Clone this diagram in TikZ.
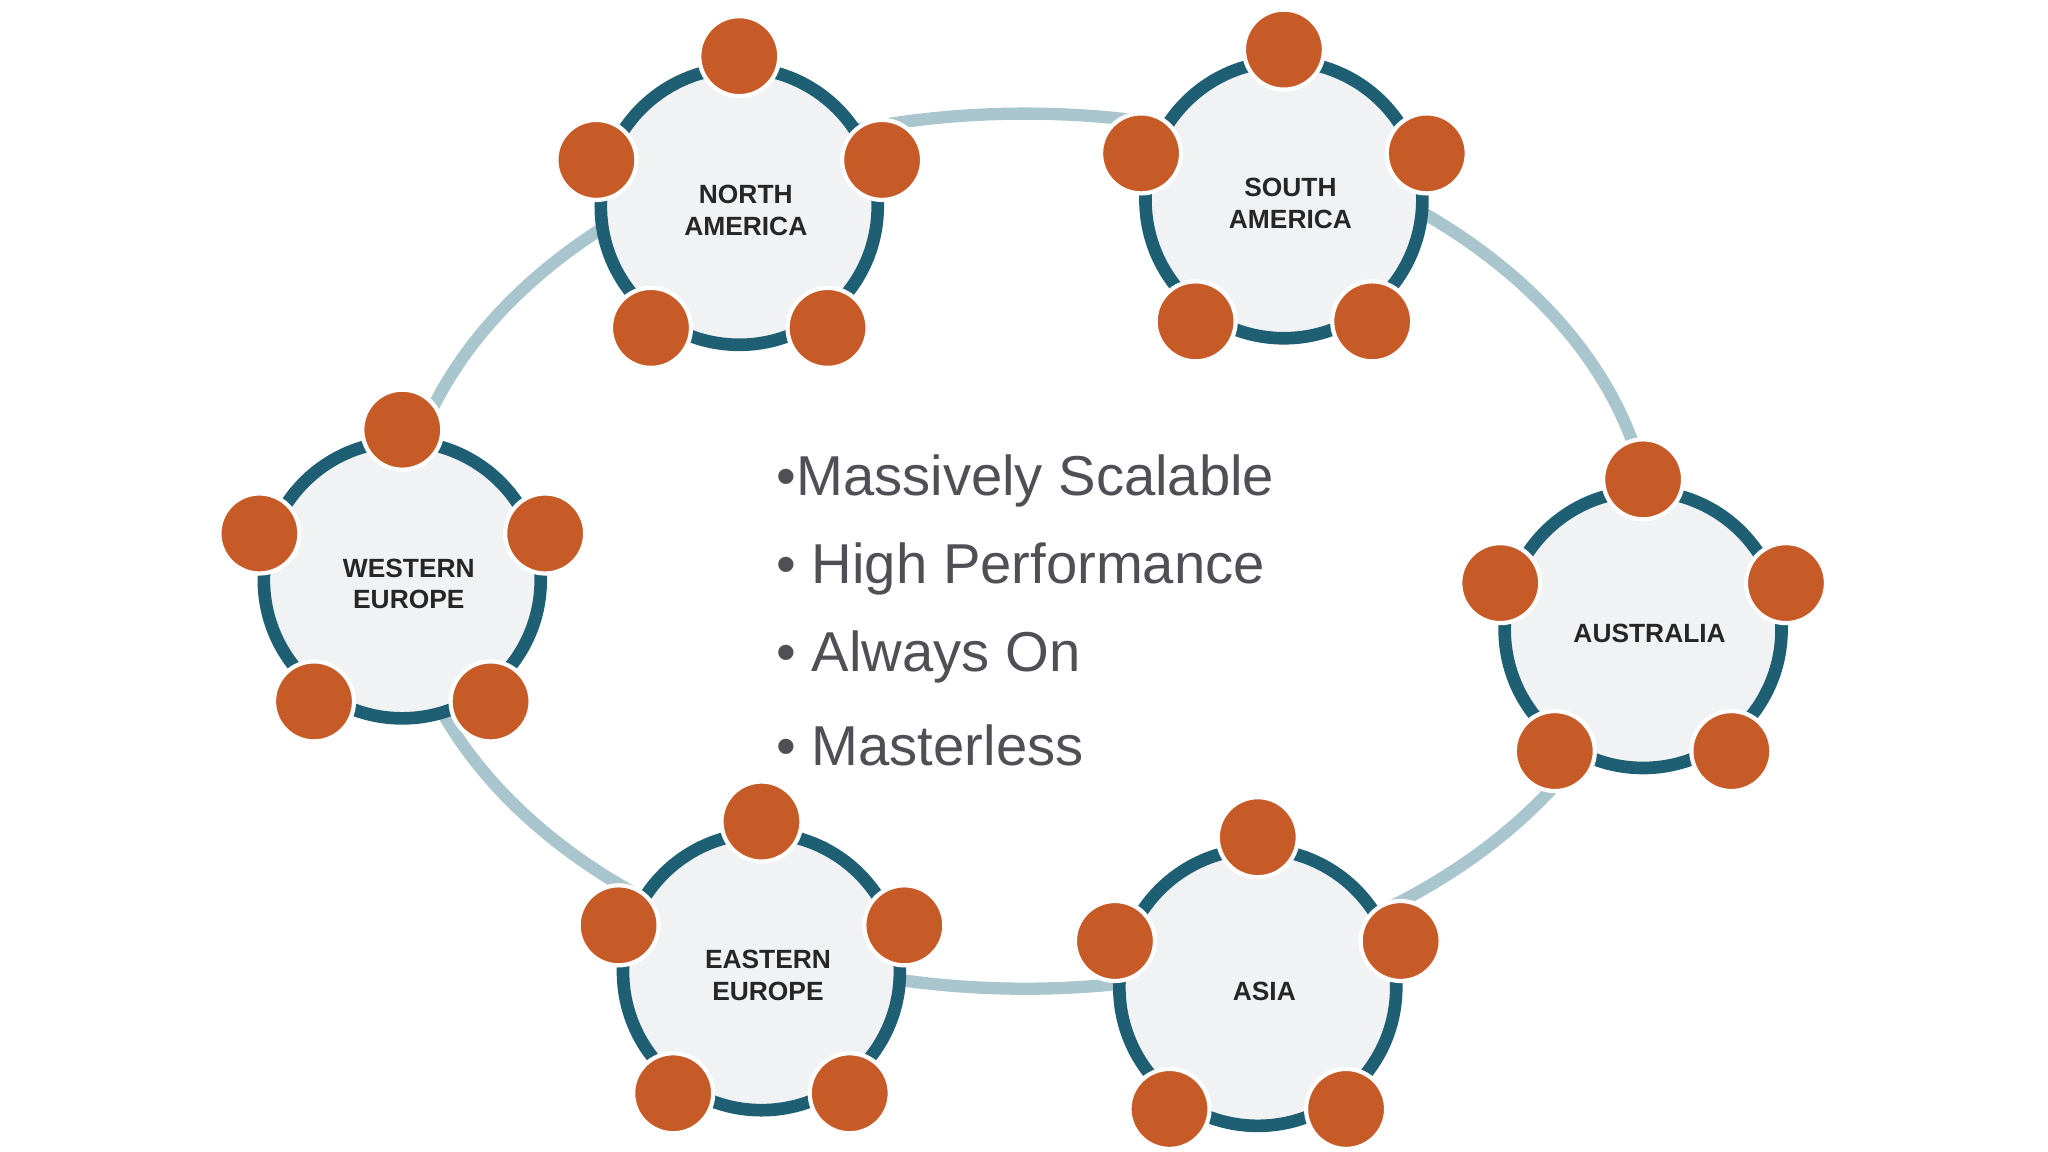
\documentclass[tikz,border=0pt]{standalone}
\usepackage{fontspec}
\setmainfont{Liberation Sans}
\usepackage{xcolor}
\usetikzlibrary{calc}
\definecolor{ringdark}{HTML}{1F5F73}
\definecolor{ringlight}{HTML}{A9C5CD}
\definecolor{dotorange}{HTML}{C65B27}
\definecolor{hubfill}{HTML}{F1F2F4}
\definecolor{bullettext}{HTML}{4F4F55}
\begin{document}
\begin{tikzpicture}[x=0.013061cm,y=0.013061cm,
  dot/.style={circle, fill=dotorange, draw=white, line width=1.2pt, minimum size=0.8cm, inner sep=0pt},
  hub/.style={align=center, font=\fontsize{7.5}{9}\selectfont\bfseries, text=black!85},
  point/.style={anchor=west, font=\fontsize{16}{18}\selectfont, text=bullettext}]
\useasboundingbox (0,0) rectangle (1568,882);
\draw[ringlight, line width=3.5pt] (785,460) ellipse [x radius=480, y radius=335];
\foreach \cx/\cy/\name/\txt in {566/724/na/{NORTH\\AMERICA}, 983/729/sa/{SOUTH\\AMERICA},
  308/438/we/{WESTERN\\EUROPE}, 1258/400/au/{AUSTRALIA}, 583/138/ee/{EASTERN\\EUROPE}, 963/126/as/{ASIA}}{
  \draw[ringdark, fill=hubfill, line width=3.6pt] (\cx,\cy) circle [radius=106];
  \node[hub] (\name) at (\cx+5,\cy-3) {\txt};
  \foreach \a [count=\i] in {90,18,-54,-126,162}
    \node[dot] (\name-\i) at ($(\cx,\cy)+(\a:115)$) {};
}
\node[point] (p1) at (585,514) {•Massively Scalable};
\node[point] (p2) at (585,446) {• High Performance};
\node[point] (p3) at (585,379) {• Always On};
\node[point] (p4) at (585,311) {• Masterless};
\end{tikzpicture}
\end{document}
